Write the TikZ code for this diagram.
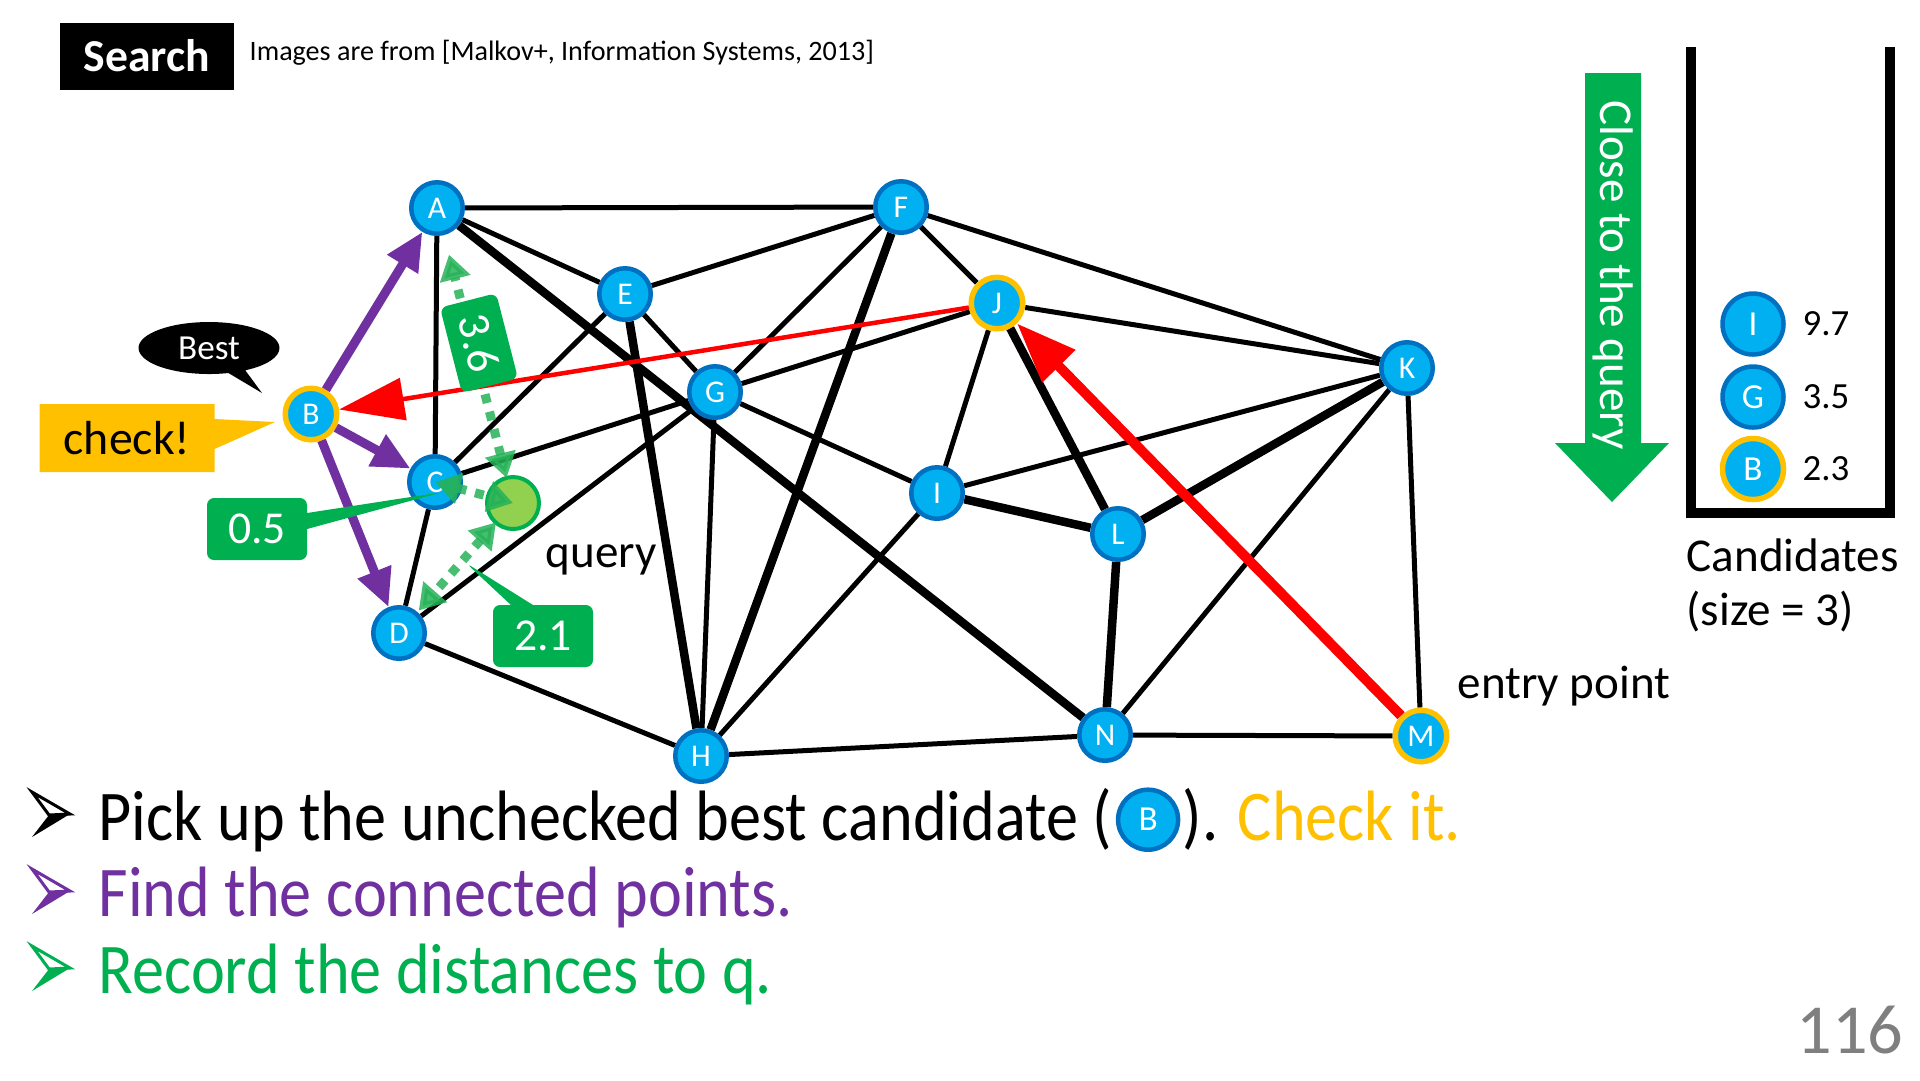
\documentclass[tikz,border=0pt]{standalone}
\usepackage{fontspec}
\setmainfont{Carlito}
\usetikzlibrary{arrows.meta,shapes.callouts,backgrounds,positioning,calc}
\definecolor{ptblue}{HTML}{00B0F0}
\definecolor{ptline}{HTML}{0070C0}
\definecolor{ringyel}{HTML}{FFC000}
\definecolor{vio}{HTML}{7030A0}
\definecolor{grn}{HTML}{00B050}
\definecolor{lgrn}{HTML}{92D050}
\definecolor{dgrn}{RGB}{38,178,88}
\definecolor{pagegray}{HTML}{7F7F7F}
\newcommand\setfs[1]{\fontsize{#1}{#1}\selectfont}
\begin{document}
\begin{tikzpicture}[x=0.1mm, y=-0.1mm,
    vtx/.style={circle, draw=ptline, fill=ptblue, line width=0.45mm, minimum size=5.15mm, inner sep=0pt, text=white, font=\setfs{9pt}},
    vtxhl/.style={vtx, draw=ringyel, line width=0.55mm},
    cand/.style={vtx, minimum size=6.1mm, font=\setfs{10pt}},
    ln/.style={line width=0.5mm},
    lnb/.style={line width=0.85mm},
    nbr/.style={vio, line width=0.9mm, -{Triangle[length=3.8mm, width=3.4mm]}},
    dsh/.style={dgrn, opacity=0.85, line width=0.9mm, dash pattern=on 0.9mm off 0.9mm, {Triangle[length=2.5mm, width=3mm]}-{Triangle[length=2.5mm, width=3mm]}},
    dist/.style={fill=grn, text=white, rounded corners=0.7mm, inner sep=0pt, minimum width=10mm, minimum height=6.2mm, font=\setfs{13pt}},
    lbl/.style={font=\setfs{13.4pt}, inner sep=0pt},
    bul/.style={font=\setfs{20.3pt}, xscale=0.9, inner sep=0pt, anchor=base west},
  ]
  \useasboundingbox (0,0) rectangle (1920,1080);

  % header
  \node[fill=black, text=white, font=\bfseries\setfs{13pt}, minimum width=17.4mm, minimum height=6.7mm, inner sep=0pt] (title) at (147,56) {Search};
  \node[font=\setfs{8pt}, inner sep=0pt, anchor=west] (src) at (249,53) {Images are from [Malkov+, Information Systems, 2013]};

  % points
  \node[vtx] (A) at (437,208) {A};
  \node[vtxhl] (B) at (311,414) {B};
  \node[vtx] (C) at (435,482) {C};
  \node[vtx] (D) at (399,633) {D};
  \node[vtx] (E) at (625,294) {E};
  \node[vtx] (F) at (901,207) {F};
  \node[vtx] (G) at (715,392) {G};
  \node[vtx] (H) at (701,756) {H};
  \node[vtx] (I) at (937,493) {I};
  \node[vtxhl] (J) at (997,303) {J};
  \node[vtx] (K) at (1407,368) {K};
  \node[vtx] (L) at (1118,534) {L};
  \node[vtxhl] (M) at (1421,736) {M};
  \node[vtx] (N) at (1105,735) {N};

  % graph edges
  \begin{scope}[on background layer]
    \foreach \a/\b in {A/F, A/E, A/C, E/F, E/C, E/G, F/G, F/J, F/K, G/C, G/D, G/H,
                       G/J, G/I, J/K, J/I, I/K, I/H, K/N, K/M, N/M, H/N, D/H, C/D}
      \draw[ln] (\a) -- (\b);
    \foreach \a/\b in {A/N, E/H, F/H, J/L, I/L, K/L, L/N}
      \draw[lnb] (\a) -- (\b);
  \end{scope}

  % search path so far
  \draw[red, line width=1mm, -{Triangle[length=6mm, width=4.4mm]}] (M) -- (J);
  \draw[red, line width=0.45mm, -{Triangle[length=6.5mm, width=4.2mm]}] (J) -- (B);
  \foreach \t in {A, C, D}
    \draw[nbr] (B) -- (\t);

  % query and distances
  \node[circle, fill=lgrn, draw=grn, line width=0.4mm, minimum size=5.2mm, inner sep=0pt] (Q) at (513,503) {};
  \node[lbl, anchor=base west] (qlbl) at (545,567) {query};
  \draw[dsh] ($(Q)!0.085!(A)$) -- ($(A)!0.158!(Q)$);
  \draw[dsh] (C.center) -- (Q.center);
  \draw[dsh] ($(Q)!0.148!(D)$) -- ($(D)!0.173!(Q)$);
  \node[dist, minimum width=8.8mm, minimum height=5.8mm, rotate=-75.6] (d36) at (479,343) {3.6};
  \node[dist, rectangle callout, callout absolute pointer={($(C)+(8,10)$)}, callout pointer width=1.6mm] (d05) at (257,529) {0.5};
  \node[dist, rectangle callout, callout absolute pointer={($(Q)+(-47,60)$)}, callout pointer width=2.2mm] (d21) at (543,636) {2.1};

  % callouts at B
  \node[ellipse callout, fill=black, text=white, font=\setfs{10pt}, minimum width=14.1mm, minimum height=5.2mm, inner sep=0pt,
        callout absolute pointer={($(B)+(-49,-21)$)}] (best) at (209,348) {Best};
  \node[rectangle callout, fill=ringyel, font=\setfs{13.6pt}, minimum width=17.5mm, minimum height=6.8mm, inner sep=0pt,
        callout absolute pointer={($(B)+(-36,8)$)}, callout pointer width=3mm] (chk) at (127,438) {check!};
  \node[lbl, anchor=base west] (entry) at (1457,698) {entry point};

  % direction arrow
  \fill[grn] (1585,73) -- (1641,73) -- (1641,443) -- (1669,443) -- (1612,502) -- (1555,443) -- (1585,443) -- cycle;
  \node[lbl, text=white, rotate=-90] (close) at (1613,275) {Close to the query};

  % candidate list
  \draw[line width=1mm] (1691,47) -- (1691,513) -- (1890,513) -- (1890,47);
  \foreach \n/\y/\v in {I/324/9.7, G/397/3.5, B/469/2.3} {
    \node[cand] (c\n) at (1753,\y) {\n};
    \node[font=\setfs{10.5pt}, inner sep=0pt, anchor=west] (v\n) at (1802,\y) {\v};
  }
  \node[cand, draw=ringyel, line width=0.55mm] (cBring) at (cB) {B};
  \node[lbl, anchor=base west] (candA) at (1686,571) {Candidates};
  \node[lbl, anchor=base west] (candB) at (1686,625) {(size = 3)};

  % steps
  \foreach \c/\dy in {black/0, vio/77, grn/154} {
    \filldraw[draw=\c, fill=white, line width=0.3mm, line join=miter] (32,792+\dy) -- (70,814+\dy) -- (49,815+\dy) -- cycle;
    \fill[\c] (49,815+\dy) -- (70,814+\dy) -- (32,837+\dy) -- cycle;
  }
  \node[bul] (s1) at (98,840) {Pick up the unchecked best candidate (};
  \node[cand, minimum size=6mm, anchor=west] (sB) at ([xshift=0.3mm]s1.east) {B};
  \node[bul] (s1b) at ([xshift=0.2mm]sB.east |- s1.base) {).};
  \node[bul, text=ringyel] (s1c) at ([xshift=1.8mm]s1b.base east) {Check it.};
  \node[bul, text=vio] (s2) at (98,916) {Find the connected points.};
  \node[bul, text=grn] (s3) at (98,993) {Record the distances to q.};

  \node[font=\setfs{20pt}, text=pagegray, inner sep=0pt, anchor=base east] (pg) at (1904,1053) {116};
\end{tikzpicture}
\end{document}
